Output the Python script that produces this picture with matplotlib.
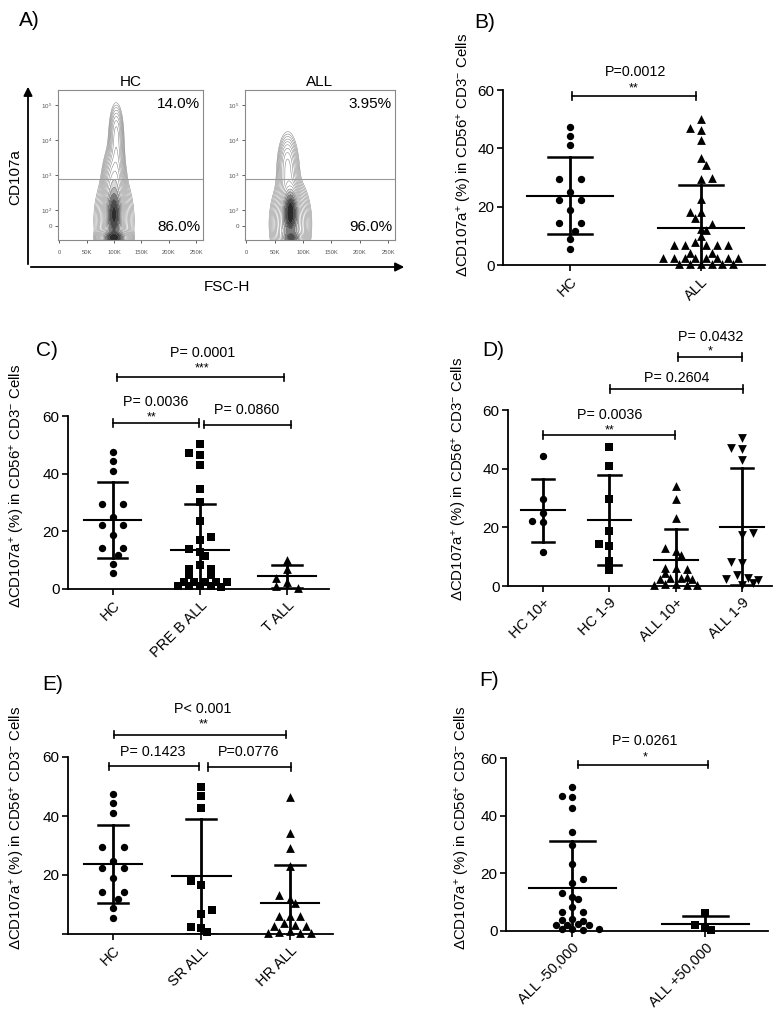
import numpy as np
import matplotlib
matplotlib.use("Agg")
import matplotlib.pyplot as plt
from matplotlib.patches import FancyArrowPatch
from matplotlib.colors import LinearSegmentedColormap, LogNorm

W, H = 782, 1009
DPI = 100

plt.rcParams['font.family'] = ['Liberation Sans', 'DejaVu Sans']
plt.rcParams['mathtext.fontset'] = 'custom'
plt.rcParams['mathtext.rm'] = 'Liberation Sans'
plt.rcParams['mathtext.it'] = 'Liberation Sans:italic'
plt.rcParams['mathtext.bf'] = 'Liberation Sans:bold'

# ====================== DATA ======================
# Panel A: flow cytometry density, described by blob components
# (FSC-H centre in K, CD107a centre in decade units, spreads, weight)
flow_titles = ['HC', 'ALL']
flow_upper_pct = ['14.0%', '3.95%']
flow_lower_pct = ['86.0%', '96.0%']
flow_xticks = [0, 50, 100, 150, 200, 250]
flow_xticklabels = ['0', '50K', '100K', '150K', '200K', '250K']
flow_yticks = [1.54, 2, 3, 4, 5]
flow_yticklabels = ['0', '$10^2$', '$10^3$', '$10^4$', '$10^5$']
flow_gate = 2.89

hc_flow_fsc = [100, 100, 100, 104, 104, 100]
hc_flow_cd = [1.85, 1.2, 2.6, 3.6, 4.3, 1.7]
hc_flow_sfsc = [7, 10, 8, 6, 5, 13]
hc_flow_scd = [0.35, 0.1, 0.45, 0.55, 0.3, 0.5]
hc_flow_w = [1.0, 1.2, 0.18, 0.05, 0.02, 0.12]

all_flow_fsc = [78, 78, 80, 74, 72]
all_flow_cd = [1.95, 1.6, 1.2, 2.9, 3.4]
all_flow_sfsc = [6, 12, 8, 8, 6]
all_flow_scd = [0.3, 0.45, 0.1, 0.5, 0.3]
all_flow_w = [1.0, 0.25, 0.5, 0.05, 0.02]

# Scatter panels: individual values (%)
hc_values = [47.4, 44.3, 41.0, 29.5, 29.5, 24.9, 22.3, 22.3, 18.9, 14.3, 14.3, 11.7, 8.8, 5.4]
all_values = [50.0, 46.9, 46.3, 42.9, 36.8, 34.3, 29.9, 29.5, 22.8, 18.3, 18.1, 16.0, 14.0,
              12.5, 11.9, 9.9, 7.9, 6.9, 6.9, 6.9, 6.9, 6.9, 4.0, 4.0, 2.3, 2.3, 2.3,
              2.3, 2.3, 2.3, 2.3, 2.3, 0.5, 0.5, 0.5, 0.5, 0.5, 0.5]
preb_values = [50.3, 47.1, 46.5, 43.0, 34.6, 30.3, 23.7, 18.2, 17.1, 13.8, 12.7, 11.3, 8.4,
               7.0, 6.9, 6.8, 6.7, 5.0, 4.8, 2.6, 2.5, 2.5, 2.4, 2.4, 1.0, 1.0, 0.9, 0.9,
               0.8]
tall_values = [10.1, 6.9, 3.8, 2.3, 0.3, 0.9]
hc10_values = [44.3, 29.5, 25.0, 22.3, 21.9, 11.5]
hc19_values = [47.5, 41.0, 29.5, 18.9, 14.3, 13.6, 8.6, 5.4]
all10_values = [34.2, 29.5, 23.1, 13.1, 12.0, 10.6, 6.2, 6.0, 5.8, 4.3, 3.0, 2.6, 2.6, 2.5,
                2.4, 0.8, 0.6, 0.5, 0.4, 0.3]
all19_values = [50.3, 47.0, 46.6, 43.0, 18.0, 17.4, 8.3, 7.7, 3.6, 2.8, 2.4, 2.2, 0.9, 0.4]
sr_values = [50.0, 46.9, 42.7, 18.1, 16.6, 8.2, 6.8, 2.5, 1.9, 0.8]
hr_values = [46.3, 34.4, 29.3, 22.9, 13.2, 11.8, 10.4, 6.1, 6.1, 6.1, 3.6, 3.2, 2.8, 2.6,
             0.9, 0.7, 0.5, 0.4, 0.3]
low_wbc_values = [50.1, 46.9, 46.4, 42.6, 34.4, 29.7, 23.3, 18.0, 16.6, 13.3, 11.8, 11.1,
                  8.4, 6.7, 6.6, 4.0, 3.8, 3.5, 2.3, 2.2, 2.2, 2.1, 0.8, 0.6, 0.6, 0.5]
high_wbc_values = [6.4, 2.2, 1.2, 0.2]

# Mean and mean +/- SD as drawn
b_cats = ['HC', 'ALL']
b_mean = [23.8, 12.6]
b_upper = [37.0, 27.6]
b_lower = [10.6, -2.4]
b_pvals = ['P=0.0012']
b_stars = ['**']

c_cats = ['HC', 'PRE B ALL', 'T ALL']
c_mean = [23.8, 13.6, 4.4]
c_upper = [37.0, 29.5, 8.2]
c_lower = [10.6, -2.3, 0.5]
c_pvals = ['P= 0.0036', 'P= 0.0860', 'P= 0.0001']
c_stars = ['**', '', '***']

d_cats = ['HC 10+', 'HC 1-9', 'ALL 10+', 'ALL 1-9']
d_mean = [25.8, 22.5, 8.9, 20.2]
d_upper = [36.5, 37.8, 19.3, 40.3]
d_lower = [15.0, 7.0, -1.5, 0.4]
d_pvals = ['P= 0.0036', 'P= 0.2604', 'P= 0.0432']
d_stars = ['**', '', '*']

e_cats = ['HC', 'SR ALL', 'HR ALL']
e_mean = [23.8, 19.5, 10.4]
e_upper = [37.0, 39.1, 23.4]
e_lower = [10.6, -0.1, -2.6]
e_pvals = ['P= 0.1423', 'P=0.0776', 'P< 0.001']
e_stars = ['', '', '**']

f_cats = ['ALL -50,000', 'ALL +50,000']
f_mean = [15.0, 2.3]
f_upper = [31.3, 5.1]
f_lower = [-1.3, -0.5]
f_pvals = ['P= 0.0261']
f_stars = ['*']

YLABEL = 'ΔCD107a$^{+}$ (%) in CD56$^{+}$ CD3$^{-}$ Cells'

# ====================== FIGURE ======================
fig = plt.figure(figsize=(W / DPI, H / DPI), dpi=DPI)


def rect(l, r, t, b):
    return [l / W, 1 - b / H, (r - l) / W, (b - t) / H]


def ftext(x, y, s, **kw):
    fig.text(x / W, 1 - y / H, s, **kw)


# ---------------- Panel A ----------------
fx = np.linspace(-2, 262, 400)
fu = np.linspace(1.14, 5.43, 400)
FX, FU = np.meshgrid(fx, fu)


def density(cx, cu, sx, su, w):
    Z = np.zeros_like(FX)
    for a, b, c, d, e in zip(cx, cu, sx, su, w):
        Z += e * np.exp(-0.5 * ((FX - a) / c) ** 2 - 0.5 * ((FU - b) / d) ** 2)
    return Z


gray_cmap = LinearSegmentedColormap.from_list(
    'flow', [(0.0, '#ffffff'), (0.66, '#ffffff'), (0.78, '#b4b4b4'),
             (0.89, '#555555'), (1.0, '#1c1c1c')])

flow_specs = [
    ((58, 203, 90, 240), (hc_flow_fsc, hc_flow_cd, hc_flow_sfsc, hc_flow_scd, hc_flow_w)),
    ((245, 395, 90, 240), (all_flow_fsc, all_flow_cd, all_flow_sfsc, all_flow_scd, all_flow_w)),
]
for k, (box, comps) in enumerate(flow_specs):
    ax = fig.add_axes(rect(*box))
    Z = density(*comps)
    zmax = Z.max()
    levels = np.geomspace(zmax * 1.5e-3, zmax * 1.001, 17)
    ax.contourf(FX, FU, Z, levels=levels, cmap=gray_cmap,
                norm=LogNorm(levels[0], levels[-1]))
    ax.contour(FX, FU, Z, levels=levels, colors='#7a7a7a', linewidths=0.35)
    ax.axhline(flow_gate, color='#9a9a9a', lw=0.8)
    ax.set_xlim(-2, 262)
    ax.set_ylim(1.14, 5.43)
    ax.set_xticks(flow_xticks)
    ax.set_xticklabels(flow_xticklabels, fontsize=4.2, color='#555555')
    ax.set_yticks(flow_yticks)
    ax.set_yticklabels(flow_yticklabels, fontsize=4.5, color='#555555')
    ax.tick_params(length=2, width=0.6, color='#444444', pad=2)
    ax.tick_params(axis='x', pad=5)
    for sp in ax.spines.values():
        sp.set_color('#8a8a8a')
        sp.set_linewidth(0.8)
    ax.text(0.98, 0.95, flow_upper_pct[k], transform=ax.transAxes, ha='right', va='top',
            fontsize=11)
    ax.text(0.98, 0.04, flow_lower_pct[k], transform=ax.transAxes, ha='right', va='bottom',
            fontsize=11)
    ax.set_title(flow_titles[k], fontsize=11, pad=3)

fig.add_artist(FancyArrowPatch((28 / W, 1 - 267 / H), (28 / W, 1 - 84 / H),
                               transform=fig.transFigure, arrowstyle='-|>',
                               mutation_scale=13, lw=1.3, color='black'))
fig.add_artist(FancyArrowPatch((28 / W, 1 - 267 / H), (407 / W, 1 - 267 / H),
                               transform=fig.transFigure, arrowstyle='-|>',
                               mutation_scale=13, lw=1.3, color='black'))
ftext(15, 177, 'CD107a', rotation=90, ha='center', va='center', fontsize=11)
ftext(227, 287, 'FSC-H', ha='center', va='center', fontsize=11)
ftext(19, 20, 'A)', ha='left', va='center', fontsize=15)


# ---------------- Scatter panels ----------------
def swarm(ax, x0, values, row_px=4.5, step_px=10.7, near_px=8.0):
    """Prism-like column scatter: bin into rows, centre each row, stagger close rows."""
    trans = ax.transData
    inv = trans.inverted()
    cx = trans.transform((x0, 0))[0]
    vals = np.asarray(values, float)
    ypx = np.array([trans.transform((x0, v))[1] for v in vals])
    order = list(np.argsort(vals)[::-1])
    rows = []
    cur = [order[0]]
    top = ypx[order[0]]
    for idx in order[1:]:
        if top - ypx[idx] <= row_px:
            cur.append(idx)
        else:
            rows.append(cur)
            cur = [idx]
            top = ypx[idx]
    rows.append(cur)
    out = np.zeros(len(vals))
    prev_y, prev_frac = None, None
    flip = 1.0
    side = -1.0
    for row in rows:
        n = len(row)
        yrow = ypx[row].mean()
        near = prev_y is not None and abs(prev_y - yrow) < near_px
        if n == 2:
            if vals[row[0]] == vals[row[1]] or (near and not prev_frac):
                offs = np.array([-1.0, 1.0])
            else:
                offs = np.array([side, 0.0])
                side = -side
            frac = False
        else:
            offs = np.array([k - (n - 1) / 2.0 for k in range(n)])
            frac = (offs[0] % 1.0) != 0
            offs = offs[np.argsort(np.abs(offs), kind='stable')]
            if near and frac == prev_frac:
                if n == 1:
                    offs = offs + 0.5 * flip
                    flip = -flip
                else:
                    offs = offs + 0.5
                frac = not frac
        for idx, o in zip(row, offs):
            out[idx] = inv.transform((cx + o * step_px, ypx[idx]))[0]
        prev_y, prev_frac = yrow, frac
    return out


MSIZE = {'o': 28, 's': 30, '^': 40, 'v': 40}


def scatter_panel(box, xlim, cats, groups, markers, means, uppers, lowers,
                  brackets, texts, ylab_xy, letter, letter_xy, zero_label=True):
    ax = fig.add_axes(rect(*box))
    ax.set_xlim(*xlim)
    ax.set_ylim(0, 60)
    for sp in ['top', 'right']:
        ax.spines[sp].set_visible(False)
    for sp in ['left', 'bottom']:
        ax.spines[sp].set_linewidth(1.3)
    ax.spines['left'].set_bounds(0, 60)
    ax.set_yticks([0, 20, 40, 60])
    if zero_label:
        ax.set_yticklabels(['0', '20', '40', '60'])
    else:
        ax.set_yticklabels(['', '20', '40', '60'])
    ax.set_xticks(range(len(cats)))
    ax.set_xticklabels(cats, rotation=45, ha='right', va='top', rotation_mode='anchor',
                       fontsize=10.5)
    ax.tick_params(axis='y', labelsize=11, length=4, width=1.2, pad=2)
    ax.tick_params(axis='x', length=4, width=1.2, pad=3)
    for i, (vals, mk) in enumerate(zip(groups, markers)):
        xs = swarm(ax, i, vals)
        ax.scatter(xs, vals, marker=mk, s=MSIZE[mk], color='black', linewidths=0,
                   zorder=3, clip_on=False)
        ax.plot([i, i], [lowers[i], uppers[i]], color='black', lw=2.0, zorder=4)
        for yv in (uppers[i], lowers[i]):
            ax.plot([i - 0.17, i + 0.17], [yv, yv], color='black', lw=1.8, zorder=4)
        ax.plot([i - 0.33, i + 0.33], [means[i], means[i]], color='black', lw=1.5, zorder=4)
    for x0, x1, yb in brackets:
        ax.plot([x0, x1], [yb, yb], color='black', lw=1.2, clip_on=False)
        for xe in (x0, x1):
            ax.plot([xe, xe], [yb - 1.3, yb + 1.3], color='black', lw=1.2, clip_on=False)
    for xt, yt, s, fs in texts:
        if s:
            ax.text(xt, yt, s, ha='center', va='center', fontsize=fs, clip_on=False)
    ftext(ylab_xy[0], ylab_xy[1], YLABEL, rotation=90, ha='center', va='center', fontsize=10.8)
    ftext(letter_xy[0], letter_xy[1], letter, ha='left', va='center', fontsize=15)
    return ax


# Panel B
scatter_panel((503, 765, 90, 265), (-0.51, 1.49), b_cats, [hc_values, all_values], ['o', '^'],
              b_mean, b_upper, b_lower,
              [(0.02, 0.96, 58.0)],
              [(0.5, 66.3, b_pvals[0], 10.3), (0.49, 60.6, b_stars[0], 9)],
              (465, 155), 'B)', (474, 22))

# Panel C
scatter_panel((68, 329, 416, 589), (-0.51, 2.48), c_cats,
              [hc_values, preb_values, tall_values], ['o', 's', '^'],
              c_mean, c_upper, c_lower,
              [(0.01, 0.985, 57.5), (1.05, 2.04, 57.0), (0.055, 1.96, 73.4)],
              [(0.49, 65.0, c_pvals[0], 10.3), (0.45, 59.4, c_stars[0], 9),
               (1.54, 62.2, c_pvals[1], 10.3),
               (1.03, 82.0, c_pvals[2], 10.3), (1.03, 76.6, c_stars[2], 9)],
              (18, 486), 'C)', (36, 350))

# Panel D
scatter_panel((508, 772, 410, 586), (-0.53, 3.45), d_cats,
              [hc10_values, hc19_values, all10_values, all19_values], ['o', 's', '^', 'v'],
              d_mean, d_upper, d_lower,
              [(0.0, 1.99, 51.5), (1.01, 3.01, 67.1), (2.04, 3.0, 78.0)],
              [(1.01, 58.3, d_pvals[0], 10.3), (1.0, 52.9, d_stars[0], 9),
               (2.02, 71.0, d_pvals[1], 10.3),
               (2.52, 85.0, d_pvals[2], 10.3), (2.52, 80.0, d_stars[2], 9)],
              (460, 479), 'D)', (482, 350))

# Panel E
scatter_panel((68, 333, 757, 934), (-0.51, 2.49), e_cats,
              [hc_values, sr_values, hr_values], ['o', 's', '^'],
              e_mean, e_upper, e_lower,
              [(-0.05, 0.97, 56.8), (1.07, 2.01, 56.6), (0.01, 1.96, 67.6)],
              [(0.45, 61.8, e_pvals[0], 10.3), (1.54, 61.8, e_pvals[1], 10.3),
               (1.02, 76.4, e_pvals[2], 10.3), (1.02, 71.1, e_stars[2], 9)],
              (18, 828), 'E)', (42, 685), zero_label=False)

# Panel F
scatter_panel((506, 768, 758, 931), (-0.5, 1.47), f_cats,
              [low_wbc_values, high_wbc_values], ['o', 's'],
              f_mean, f_upper, f_lower,
              [(0.04, 1.02, 57.7)],
              [(0.54, 65.9, f_pvals[0], 10.3), (0.55, 60.2, f_stars[0], 9)],
              (463, 828), 'F)', (479, 680))

fig.savefig('out.png', dpi=DPI)
